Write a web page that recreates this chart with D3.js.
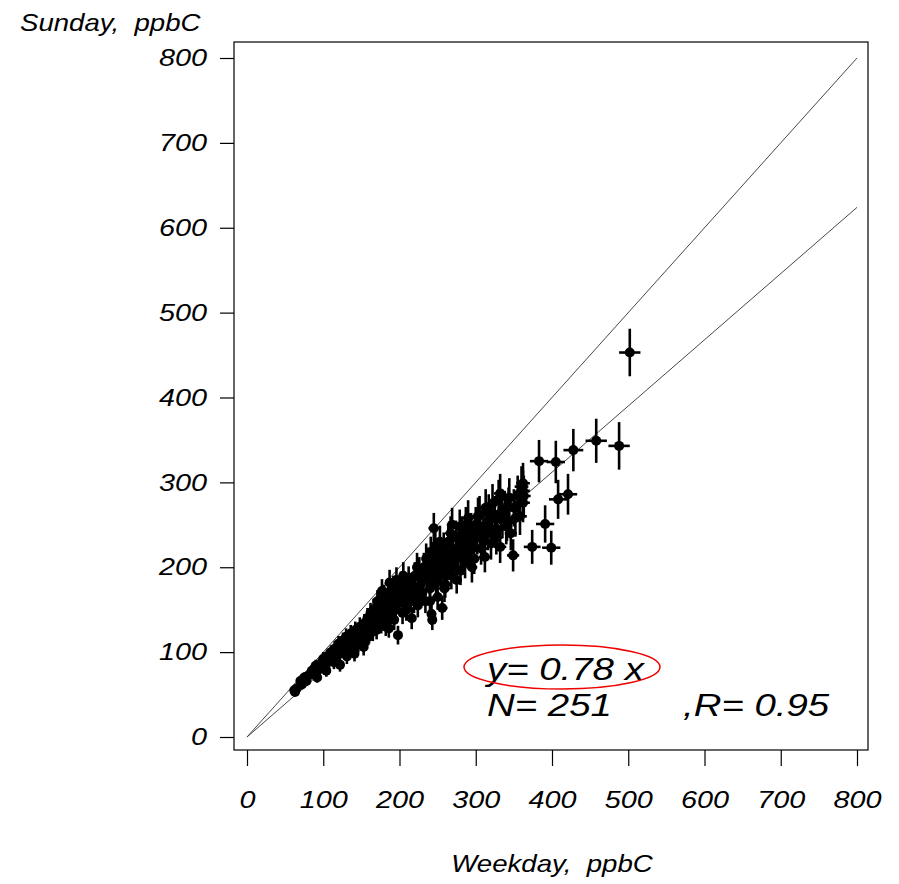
<!DOCTYPE html>
<html>
<head>
<meta charset="utf-8">
<script src="https://cdn.jsdelivr.net/npm/d3@7"></script>
<style>
  body { margin: 0; background: #fff; }
  text { font-family: "Liberation Sans", Arial, sans-serif; font-style: italic; white-space: pre; }
</style>
</head>
<body>
<div id="chart"></div>
<script>
// weekday vs sunday concentrations, [x, y, xErr, yErr]
const points = [
  [62,55,3,5],[63,53,3,5],[65,57,3,5],[70,66,3,6],[72,62,3,6],[75,70,3,6],[78,66,3,6],[80,72,3,6],
  [85,78,3,7],[88,74,3,6],[90,84,3,7],[92,70,3,6],[95,80,3,7],[98,88,3,8],[100,92,4,8],[102,84,4,7],
  [104,78,4,7],[105,95,4,8],
  [108,90,4,8],[110,100,4,8],[112,95,4,8],[114,88,4,8],[115,104,4,9],[118,96,4,8],[120,110,4,9],[122,85,4,8],
  [124,102,4,9],[126,114,4,9],[128,108,4,9],[130,118,4,10],[131,95,4,9],[132,100,4,9],[134,112,4,10],[136,122,4,10],
  [138,116,4,10],[140,106,4,9],[141,98,4,9],[142,126,4,10],[144,118,4,10],[146,110,4,10],[148,130,4,11],[150,122,5,10],
  [152,114,5,10],[153,106,5,10],[154,134,5,11],[156,126,5,11],[158,140,5,12],[159,118,5,10],[160,120,5,10],[162,146,5,12],
  [164,132,5,11],[165,124,5,11],[166,150,5,13],[168,138,5,12],[170,126,5,11],[171,160,5,13],[172,155,5,13],[173,145,5,12],
  [175,160,5,13],[176,134,5,12],[177,172,5,14],[178,150,5,13],[180,165,5,14],[181,140,5,12],[182,130,5,11],[183,156,5,13],
  [185,170,5,14],[186,128,5,11],[187,182,5,15],[188,146,5,13],[190,160,5,14],[191,150,5,13],[192,175,5,15],[193,138,5,12],
  [195,150,5,13],[196,185,5,15],[197,168,5,14],[198,120,5,11],[200,158,6,14],[200,170,6,14],
  [202,180,6,15],[204,146,6,13],[205,190,6,16],[206,166,6,14],[208,172,6,15],[209,150,6,13],[210,155,6,13],[212,185,6,16],
  [214,162,6,14],[215,178,6,15],[216,140,6,13],[218,176,6,15],[219,160,6,14],[220,190,6,16],[222,168,6,14],[223,200,6,17],
  [224,155,6,14],[226,195,6,17],[227,172,6,15],[228,180,6,15],[230,170,6,15],[231,188,6,16],[232,200,6,17],[234,160,6,14],
  [235,210,6,18],[236,188,6,16],[238,205,6,18],[239,185,6,16],[240,175,6,15],[240,160,6,14],[241,218,6,18],[242,145,6,13],
  [243,138,6,12],[244,195,6,17],[245,246,7,18],[246,210,6,18],[247,225,7,19],[248,182,6,16],[249,192,7,17],[250,200,7,17],
  [250,165,7,15],
  [252,215,7,18],[253,230,7,19],[254,190,7,16],[256,152,7,14],[257,205,7,17],[258,222,7,19],[259,175,7,16],[260,180,7,16],
  [262,198,7,17],[263,215,7,18],[264,230,7,20],[266,210,7,18],[267,240,7,20],[268,190,7,16],[269,250,7,20],[270,218,7,18],
  [271,205,7,17],[272,200,7,17],[274,235,7,20],[275,185,7,16],[276,212,7,18],[278,225,7,19],[279,248,7,20],[280,196,7,17],
  [282,240,7,20],[283,212,7,18],[284,220,7,19],[286,205,7,18],[287,250,7,21],[288,230,7,19],[290,258,8,21],[291,222,7,19],
  [292,215,7,18],[294,244,8,20],[295,200,7,18],[296,228,7,19],[298,210,7,18],[299,238,8,20],[300,250,8,21],
  [302,235,8,20],[303,260,8,22],[305,262,8,22],[306,245,8,21],[307,222,8,19],[310,248,8,21],[311,232,8,20],[312,212,8,18],
  [313,270,8,22],[316,240,8,20],[317,264,8,22],[318,256,8,21],[320,228,8,19],[321,245,8,21],[322,275,8,23],[325,262,8,22],
  [327,235,8,20],[328,245,8,21],[330,280,8,23],[332,224,8,19],[332,287,8,23],[334,265,8,22],[335,255,8,21],[338,268,8,22],
  [340,248,8,21],[341,252,8,21],[343,272,8,22],[344,282,9,23],[346,240,8,20],[349,214,8,19],[350,270,9,22],[352,258,9,22],
  [355,285,9,23],[358,260,9,22],[360,295,9,24],[362,290,9,24],[362,299,9,24],[363,284,9,24],[362,276,9,23],
  [374,224,11,20],[383,325,12,25],[391,251,12,22],[399,223,12,20],[405,324,12,25],[408,280,12,23],
  [421,286,12,24],[428,338,13,25],[458,349,14,26],[488,343,14,28],[502,453,14,28]
];

const xTicks = [0, 100, 200, 300, 400, 500, 600, 700, 800];
const yTicks = [0, 100, 200, 300, 400, 500, 600, 700, 800];
const slopes = [1, 0.78];
const fitLabel = "y= 0.78 x";
const nLabel = "N= 251";
const rLabel = ",R= 0.95";

const width = 899, height = 884;
const box = {left: 234, top: 42, right: 868, bottom: 750};
const stretch = 1.2; // the original font is wider than Arial

const svg = d3.select("#chart").append("svg")
    .attr("width", width)
    .attr("height", height);

const x = d3.scaleLinear().domain([0, 800]).range([247, 857]);
const y = d3.scaleLinear().domain([0, 800]).range([737, 58]);

// frame
svg.append("rect")
    .attr("x", box.left).attr("y", box.top)
    .attr("width", box.right - box.left).attr("height", box.bottom - box.top)
    .attr("fill", "none").attr("stroke", "#000").attr("stroke-width", 1.2);

// axes
const yAxis = svg.append("g")
    .attr("transform", "translate(" + box.left + ",0)")
    .call(d3.axisLeft(y).tickValues(yTicks).tickSize(14).tickFormat(d3.format("d")));
const xAxis = svg.append("g")
    .attr("transform", "translate(0," + box.bottom + ")")
    .call(d3.axisBottom(x).tickValues(xTicks).tickSize(16).tickFormat(d3.format("d")));
[xAxis, yAxis].forEach(function(g) {
    g.select(".domain").remove();
    g.selectAll("line").attr("stroke", "#000").attr("stroke-width", 1.2);
    g.selectAll("text")
        .attr("fill", "#000")
        .style("font-size", "24px")
        .style("font-family", "Liberation Sans, Arial, sans-serif")
        .style("font-style", "italic");
});
yAxis.selectAll("text")
    .attr("x", -27 / stretch)
    .attr("transform", "scale(" + stretch + ",1)");
xAxis.selectAll("text")
    .attr("y", 50)
    .attr("dy", "0.35em")
    .attr("transform", "scale(" + stretch + ",1)");

function label(tx, ty, size, txt, anchor) {
    svg.append("text")
        .attr("transform", "translate(" + tx + "," + ty + ") scale(" + stretch + ",1)")
        .attr("text-anchor", anchor || "start")
        .style("font-size", size + "px")
        .text(txt);
}

label(20, 31, 23, "Sunday,  ppbC");
label(552, 872, 23, "Weekday,  ppbC", "middle");

// reference lines
svg.selectAll(".refline")
    .data(slopes)
    .enter()
    .append("line")
        .attr("class", "refline")
        .attr("x1", x(0)).attr("y1", y(0))
        .attr("x2", x(800)).attr("y2", function(s) { return y(800 * s); })
        .attr("stroke", "#333").attr("stroke-width", 0.9);

// error bars + dots
const pts = svg.append("g").selectAll("g")
    .data(points)
    .enter()
    .append("g");
pts.append("line")
    .attr("x1", function(d) { return x(d[0]); })
    .attr("x2", function(d) { return x(d[0]); })
    .attr("y1", function(d) { return y(d[1] - d[3]); })
    .attr("y2", function(d) { return y(d[1] + d[3]); })
    .attr("stroke", "#000").attr("stroke-width", 2.6);
pts.append("line")
    .attr("x1", function(d) { return x(d[0] - d[2]); })
    .attr("x2", function(d) { return x(d[0] + d[2]); })
    .attr("y1", function(d) { return y(d[1]); })
    .attr("y2", function(d) { return y(d[1]); })
    .attr("stroke", "#000").attr("stroke-width", 2.6);
pts.append("circle")
    .attr("cx", function(d) { return x(d[0]); })
    .attr("cy", function(d) { return y(d[1]); })
    .attr("r", 5)
    .attr("fill", "#000");

// fit annotation
label(487, 680, 32, fitLabel);
label(487, 716, 32, nLabel);
label(683, 716, 32, rLabel);
svg.append("ellipse")
    .attr("cx", 562).attr("cy", 667)
    .attr("rx", 98).attr("ry", 22)
    .attr("fill", "none")
    .attr("stroke", "#e00").attr("stroke-width", 1.5);
</script>
</body>
</html>
